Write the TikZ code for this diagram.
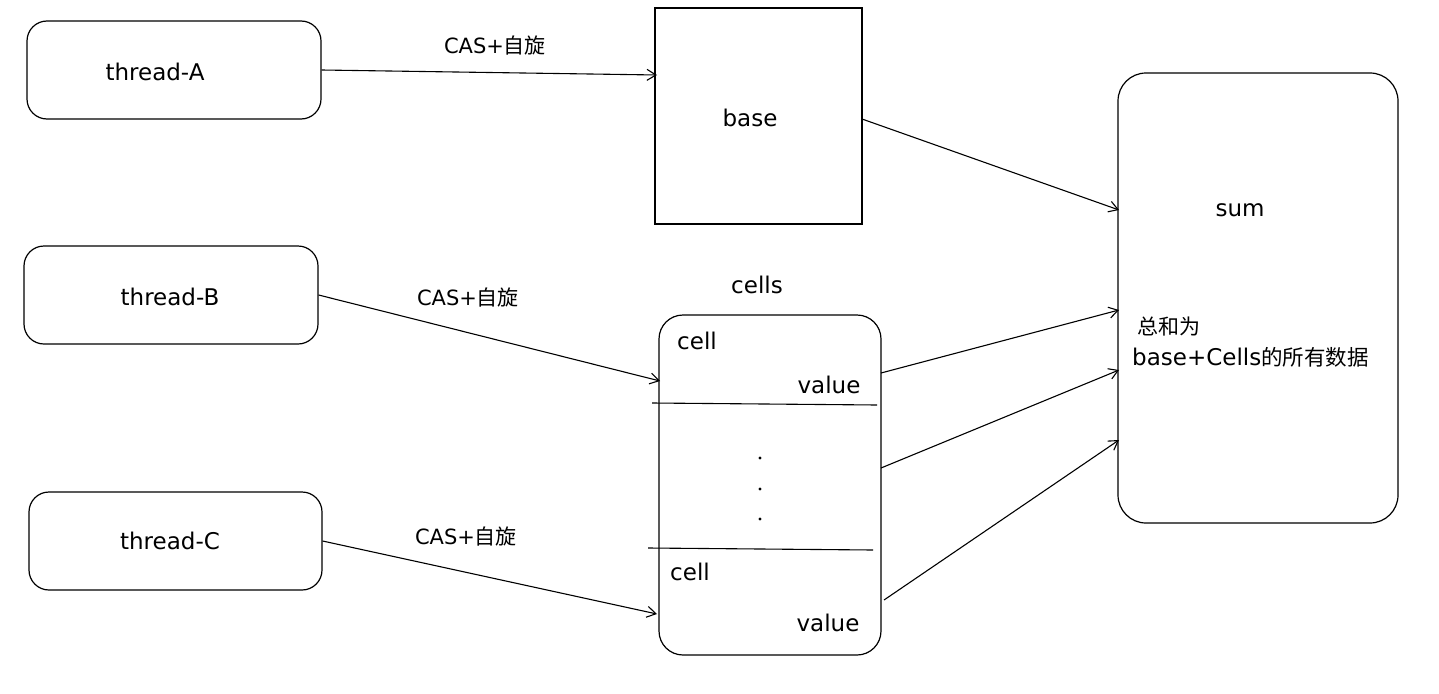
\documentclass[tikz,border=0pt]{standalone}
\usepackage{fontspec}
\setmainfont{DejaVu Sans}
\newfontfamily\cjk{Noto Sans CJK SC}
\usetikzlibrary{arrows.meta}
\begin{document}
\begin{tikzpicture}[x=1pt,y=-1pt,
  box/.style={draw,line width=1.2pt,rounded corners=#1,inner sep=0pt},
  lbl/.style={font=\fontsize{23}{26}\selectfont,inner sep=0pt},
  small/.style={font=\fontsize{21}{24}\selectfont,inner sep=0pt},
  dot/.style={circle,fill,inner sep=0pt,minimum size=3.2pt},
  arr/.style={line width=1.1pt,-{Straight Barb[length=9pt,width=11pt,line width=1.1pt]}},
  seg/.style={line width=1.1pt}]
\useasboundingbox (0,0) rectangle (1439,693);
% boxes
\node[box=20pt,minimum width=294pt,minimum height=98pt] (tA) at (174,70) {};
\node[box=20pt,minimum width=294pt,minimum height=98pt] (tB) at (171,295) {};
\node[box=20pt,minimum width=293pt,minimum height=98pt] (tC) at (175.5,541) {};
\node[box=0pt,minimum width=207pt,minimum height=216pt] (base) at (758.5,116) {};
\node[box=28pt,minimum width=280pt,minimum height=450pt] (sum) at (1258,298) {};
\node[box=24pt,minimum width=222pt,minimum height=340pt] (cells) at (770,485) {};
% texts
\node[lbl] (tAl) at (155,72) {thread-A};
\node[lbl] (tBl) at (170,297) {thread-B};
\node[lbl] (tCl) at (170,541) {thread-C};
\node[lbl] (basel) at (750,118) {base};
\node[lbl] (suml) at (1240,210) {sum};
\node[lbl] (cellsl) at (757,285) {cells};
\node[lbl] (c1) at (697,341) {cell};
\node[lbl] (v1) at (829,385) {value};
\node[lbl] (c2) at (690,572) {cell};
\node[lbl] (v2) at (828,623) {value};
\node[dot] (d1) at (760,458) {};
\node[dot] (d2) at (760,489) {};
\node[dot] (d3) at (760,519) {};
\node[anchor=west,inner sep=0pt] (s1) at (1137,327) {\fontsize{21}{24}\selectfont\cjk 总和为};
\node[anchor=west,inner sep=0pt] (s2) at (1132,357) {\fontsize{23}{26}\selectfont base+Cells\fontsize{21.5}{24}\selectfont\cjk 的所有数据};
\node[small] (lA) at (495,46) {CAS+{\cjk 自旋}};
\node[small] (lB) at (468,298) {CAS+{\cjk 自旋}};
\node[small] (lC) at (466,537) {CAS+{\cjk 自旋}};
% coordinates
\coordinate (bA) at (657,75);
\coordinate (cB) at (660,381);
\coordinate (cC) at (657,614);
\coordinate (bo) at (862,119);
\coordinate (s0) at (1119,210);
\coordinate (co1) at (881,373);
\coordinate (si1) at (1119,310);
\coordinate (co2) at (881,468);
\coordinate (si2) at (1119,370);
\coordinate (co3) at (884,600);
\coordinate (si3) at (1119,440);
\coordinate (l1a) at (652,403);
\coordinate (l1b) at (877,405);
\coordinate (l2a) at (648,548);
\coordinate (l2b) at (873,550);
% separators
\draw[seg] (l1a) -- (l1b);
\draw[seg] (l2a) -- (l2b);
% arrows
\draw[arr] (tA.east) -- (bA);
\draw[arr] (tB.east) -- (cB);
\draw[arr] (tC.east) -- (cC);
\draw[arr] (bo) -- (s0);
\draw[arr] (co1) -- (si1);
\draw[arr] (co2) -- (si2);
\draw[arr] (co3) -- (si3);
\end{tikzpicture}
\end{document}
